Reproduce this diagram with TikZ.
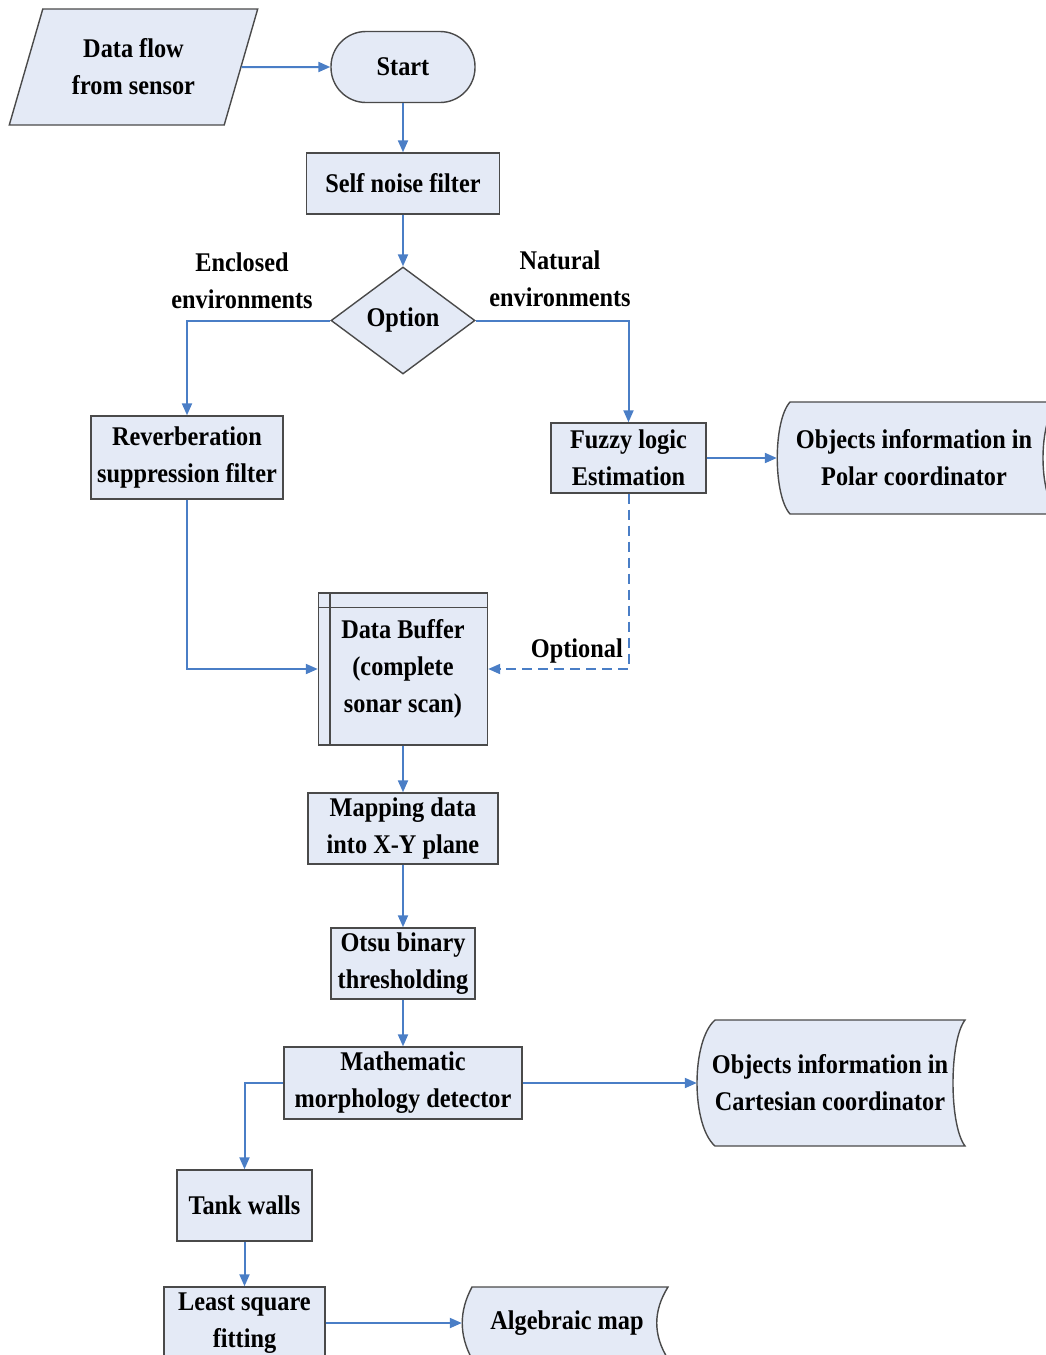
\documentclass[tikz,border=0pt]{standalone}
\usepackage{fontspec}
\newfontfamily\lblfont{Liberation Serif}[FakeStretch=0.9]
\usetikzlibrary{arrows.meta,shapes.geometric}
\definecolor{boxfill}{HTML}{E4EAF6}
\definecolor{boxline}{HTML}{4A4A4A}
\definecolor{flowblue}{HTML}{4A7EC6}
\tikzset{
  txt/.style={font=\lblfont\bfseries\fontsize{27}{37}\selectfont, align=center, inner sep=0pt},
  block/.style={txt, draw=boxline, line width=1.4pt, fill=boxfill, rectangle},
  store/.style={draw=boxline, line width=1.4pt, fill=boxfill},
  flow/.style={draw=flowblue, line width=2pt, -{Triangle[length=12pt,width=10pt]}},
}
\begin{document}
\begin{tikzpicture}[x=1pt,y=-1pt]
\useasboundingbox (0,0) rectangle (1046,1355);

% shapes of the stored data boxes
\path[store] (790,402) -- (1058,402) .. controls (1038,421) and (1038,495) .. (1058,514) -- (790,514) .. controls (773,495) and (773,421) .. (790,402) -- cycle;
\path[store] (715,1020) -- (965,1020) .. controls (949,1041) and (949,1125) .. (965,1146) -- (715,1146) .. controls (691,1125) and (691,1041) .. (715,1020) -- cycle;
\path[store] (472,1287) -- (668,1287) .. controls (653,1311) and (653,1335) .. (668,1359) -- (472,1359) .. controls (459,1335) and (459,1311) .. (472,1287) -- cycle;

\node[block, trapezium, trapezium left angle=68, trapezium right angle=112, trapezium stretches=true, minimum width=249, minimum height=116] (sensor) at (133.5,67) {Data flow\\from sensor};
\node[block, rounded corners=35pt, minimum width=144, minimum height=71] (start) at (403,67) {Start};
\node[block, minimum width=193, minimum height=61] (noise) at (403,183.5) {Self noise filter};
\node[block, diamond, aspect=1.35, minimum width=144, minimum height=107] (option) at (403,320.5) {Option};
\node[txt] (enclosed) at (242,281) {Enclosed\\environments};
\node[txt] (natural) at (560,279) {Natural\\environments};
\node[block, minimum width=192, minimum height=83] (reverb) at (187,457.5) {Reverberation\\suppression filter};
\node[block, minimum width=155, minimum height=70] (fuzzy) at (628.5,458) {Fuzzy logic\\Estimation};
\node[txt, minimum width=274, minimum height=112] (polar) at (914,458) {Objects information in\\Polar coordinator};
\node[block, minimum width=169, minimum height=152] (buffer) at (403,669) {Data Buffer\\(complete\\sonar scan)};
\node[txt, anchor=east] (optional) at (623,651) {Optional};
\node[block, minimum width=190, minimum height=71] (mapping) at (403,828.5) {Mapping data\\into X-Y plane};
\node[block, minimum width=144, minimum height=71] (otsu) at (403,963.5) {Otsu binary\\thresholding};
\node[block, minimum width=238, minimum height=72] (morph) at (403,1083) {Mathematic\\morphology detector};
\node[txt, minimum width=266, minimum height=126] (cartesian) at (830,1083) {Objects information in\\Cartesian coordinator};
\node[block, minimum width=135, minimum height=71] (tank) at (244.5,1205.5) {Tank walls};
\node[block, minimum width=161, minimum height=72] (lsf) at (244.5,1323) {Least square\\fitting};
\node[txt, minimum width=210, minimum height=72] (algmap) at (567,1323) {Algebraic map};

% inner lines of the buffer
\path[draw=boxline, line width=1.4pt] ([xshift=12pt]buffer.north west) -- ([xshift=12pt]buffer.south west);
\path[draw=boxline, line width=1.4pt] ([yshift=-15pt]buffer.north west) -- ([yshift=-15pt]buffer.north east);

\path[flow] (sensor.east) -- (start.west);
\path[flow] (start) -- (noise);
\path[flow] (noise) -- (option);
\path[flow] (option.west) -| (reverb.north);
\path[flow] (option.east) -| (fuzzy.north);
\path[flow] (fuzzy) -- (polar);
\path[flow] (reverb.south) |- (buffer.west);
\path[flow, dash pattern=on 10pt off 6pt] (fuzzy.south) |- (buffer.east);
\path[flow] (buffer) -- (mapping);
\path[flow] (mapping) -- (otsu);
\path[flow] (otsu) -- (morph);
\path[flow] (morph) -- (cartesian);
\path[flow] (morph.west) -| (tank.north);
\path[flow] (tank) -- (lsf);
\path[flow] (lsf.east) -- (algmap.west);
\end{tikzpicture}
\end{document}
